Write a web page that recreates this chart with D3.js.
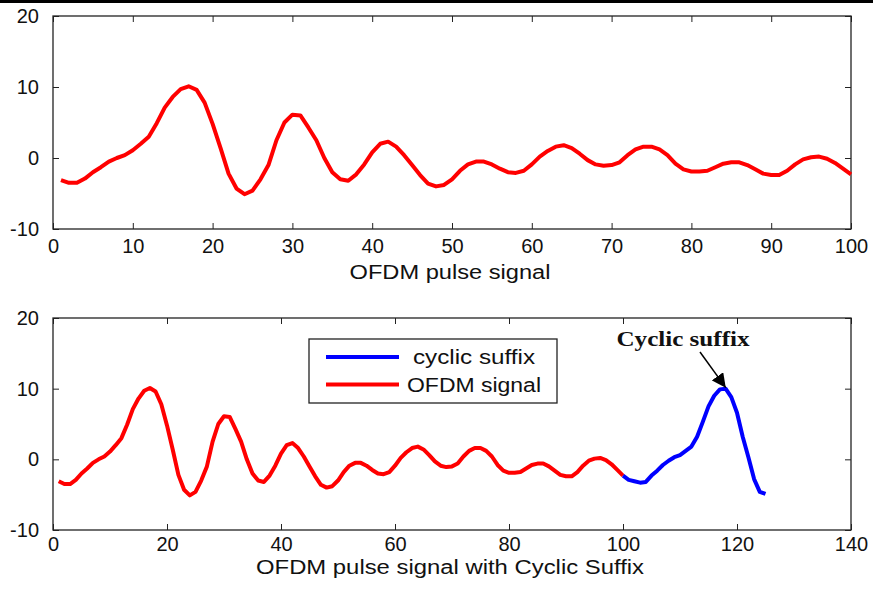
<!DOCTYPE html>
<html>
<head>
<meta charset="utf-8">
<script src="https://cdn.jsdelivr.net/npm/d3@7"></script>
<style>
  html, body { margin: 0; padding: 0; background: #fff; }
  svg { display: block; }
  .tick text { font-family: "Liberation Sans", Arial, sans-serif; font-size: 20px; fill: #111; }
  .tick line { stroke: #222; }
  .ax-title { font-family: "Liberation Sans", Arial, sans-serif; font-size: 20px; fill: #111; }
</style>
</head>
<body>
<div id="chart"></div>
<script>
// OFDM pulse samples n = 1..100
const ofdmSignal = [
  -3.1, -3.5, -3.5, -2.9, -2.0, -1.3, -0.5,  0.0,  0.4,  1.1,
   2.0,  3.0,  4.9,  7.1,  8.6,  9.7, 10.1,  9.6,  7.8,  4.8,
   1.4, -2.2, -4.3, -5.1, -4.6, -3.0, -1.0,  2.5,  5.0,  6.1,
   6.0,  4.3,  2.5,  0.0, -2.0, -3.0, -3.2, -2.3, -0.9,  0.8,
   2.0,  2.3,  1.6,  0.4, -1.0, -2.4, -3.6, -4.0, -3.8, -3.0,
  -1.8, -0.9, -0.5, -0.5, -0.9, -1.5, -2.0, -2.1, -1.8, -0.9,
   0.2,  1.0,  1.6,  1.8,  1.4,  0.6, -0.3, -0.9, -1.1, -1.0,
  -0.6,  0.4,  1.2,  1.6,  1.6,  1.2,  0.4, -0.8, -1.6, -1.9,
  -1.9, -1.8, -1.3, -0.8, -0.6, -0.6, -1.0, -1.6, -2.2, -2.4,
  -2.4, -1.8, -0.9, -0.2,  0.1,  0.2, -0.1, -0.7, -1.5, -2.3
];
const signalStart = 1;

// cyclic suffix samples n = 100..125 (bottom panel, blue)
const suffixSignal = [
  -2.3, -2.9, -3.1, -3.3, -3.2, -2.3, -1.6, -0.8, -0.2,  0.3,
   0.6,  1.2,  1.8,  3.2,  5.3,  7.5,  9.0,  9.9, 10.0,  8.8,
   6.6,  3.2,  0.3, -2.8, -4.6, -4.9
];
const suffixStart = 100;

const topXTicks = [0, 10, 20, 30, 40, 50, 60, 70, 80, 90, 100];
const botXTicks = [0, 20, 40, 60, 80, 100, 120, 140];
const yTicks = [-10, 0, 10, 20];

const legendLabels = ['cyclic suffix', 'OFDM signal'];
const legendColors = ['#0000ff', '#ff0000'];

const W = 873, H = 589;
const svg = d3.select('#chart').append('svg').attr('width', W).attr('height', H);

// black strip along the top edge of the picture
svg.append('rect').attr('x', 0).attr('y', 0).attr('width', W).attr('height', 3).attr('fill', '#000');

const plainNum = d => String(d);

function panel(cfg) {
  const { x, y, xTicks, title, titleY, titleLen, xPad } = cfg;
  const g = svg.append('g');
  const [x0, x1] = x.range();
  const [y0, y1] = y.range();
  const tl = 6;

  g.append('g').attr('transform', `translate(0,${y0})`)
    .call(d3.axisBottom(x).tickValues(xTicks).tickFormat(plainNum).tickSizeInner(-tl).tickSizeOuter(0).tickPadding(xPad))
    .call(s => s.select('.domain').remove());
  g.append('g').attr('transform', `translate(0,${y1})`)
    .call(d3.axisTop(x).tickValues(xTicks).tickSizeInner(-tl).tickSizeOuter(0).tickFormat(''))
    .call(s => s.select('.domain').remove());
  g.append('g').attr('transform', `translate(${x0},0)`)
    .call(d3.axisLeft(y).tickValues(yTicks).tickFormat(plainNum).tickSizeInner(-tl).tickSizeOuter(0).tickPadding(14))
    .call(s => s.select('.domain').remove());
  g.append('g').attr('transform', `translate(${x1},0)`)
    .call(d3.axisRight(y).tickValues(yTicks).tickSizeInner(-tl).tickSizeOuter(0).tickFormat(''))
    .call(s => s.select('.domain').remove());

  // hide ticks that sit on the box edges
  g.selectAll('.tick line').filter(d => d === x.domain()[0] || d === x.domain()[1] || d === y.domain()[0] || d === y.domain()[1])
    .attr('stroke', 'none');

  g.append('rect').attr('x', x0).attr('y', y1).attr('width', x1 - x0).attr('height', y0 - y1)
    .attr('fill', 'none').attr('stroke', '#222').attr('stroke-width', 1.3);

  g.append('text').attr('class', 'ax-title')
    .attr('x', (x0 + x1) / 2 - 2).attr('y', titleY).attr('text-anchor', 'middle')
    .attr('textLength', titleLen).attr('lengthAdjust', 'spacingAndGlyphs')
    .text(title);
  return g;
}

const xTop = d3.scaleLinear().domain([0, 100]).range([53, 851]);
const yTop = d3.scaleLinear().domain([-10, 20]).range([229, 16]);
const xBot = d3.scaleLinear().domain([0, 140]).range([53, 851]);
const yBot = d3.scaleLinear().domain([-10, 20]).range([530, 318]);

panel({ x: xTop, y: yTop, xTicks: topXTicks, title: 'OFDM pulse signal', titleY: 279, titleLen: 201, xPad: 10 });
panel({ x: xBot, y: yBot, xTicks: botXTicks, title: 'OFDM pulse signal with Cyclic Suffix', titleY: 574, titleLen: 388, xPad: 7 });

const sigPts = ofdmSignal.map((v, i) => [signalStart + i, v]);
const sufPts = suffixSignal.map((v, i) => [suffixStart + i, v]);

const lineTop = d3.line().x(d => xTop(d[0])).y(d => yTop(d[1]));
const lineBot = d3.line().x(d => xBot(d[0])).y(d => yBot(d[1]));

svg.append('path').datum(sigPts).attr('d', lineTop)
  .attr('fill', 'none').attr('stroke', '#ff0000').attr('stroke-width', 4).attr('stroke-linejoin', 'round');

svg.append('path').datum(sigPts).attr('d', lineBot)
  .attr('fill', 'none').attr('stroke', '#ff0000').attr('stroke-width', 4).attr('stroke-linejoin', 'round');
svg.append('path').datum(sufPts).attr('d', lineBot)
  .attr('fill', 'none').attr('stroke', '#0000ff').attr('stroke-width', 4).attr('stroke-linejoin', 'round');

// ---- Legend ----
const legendTextX = [104, 98];
const legendTextLen = [122, 134];
const lg = svg.append('g').attr('transform', 'translate(309,339)');
lg.append('rect').attr('width', 248).attr('height', 64)
  .attr('fill', '#fff').attr('stroke', '#222').attr('stroke-width', 1.3);
legendLabels.forEach((lab, i) => {
  const yy = 18 + i * 27.5;
  lg.append('line').attr('x1', 17).attr('x2', 90).attr('y1', yy).attr('y2', yy)
    .attr('stroke', legendColors[i]).attr('stroke-width', 4);
  lg.append('text').attr('class', 'ax-title')
    .attr('x', legendTextX[i]).attr('y', yy + 7)
    .attr('textLength', legendTextLen[i]).attr('lengthAdjust', 'spacingAndGlyphs')
    .text(lab);
});

// ---- Annotation ----
const defs = svg.append('defs');
defs.append('marker').attr('id', 'arrowHead')
  .attr('viewBox', '0 0 10 10').attr('refX', 10).attr('refY', 5)
  .attr('markerWidth', 14).attr('markerHeight', 14).attr('markerUnits', 'userSpaceOnUse')
  .attr('orient', 'auto')
  .append('path').attr('d', 'M0,0 L10,5 L0,10 Z').attr('fill', '#000');

const peakX = 117.5, peakY = 10;
svg.append('line')
  .attr('x1', 700).attr('y1', 352)
  .attr('x2', xBot(peakX) + 3).attr('y2', yBot(peakY) - 1)
  .attr('stroke', '#000').attr('stroke-width', 1.5)
  .attr('marker-end', 'url(#arrowHead)');

svg.append('text')
  .attr('x', 683).attr('y', 346).attr('text-anchor', 'middle')
  .attr('font-family', '"Liberation Serif", "Times New Roman", serif')
  .attr('font-weight', 'bold').attr('font-size', 20).attr('fill', '#111')
  .attr('textLength', 133).attr('lengthAdjust', 'spacingAndGlyphs')
  .text('Cyclic suffix');
</script>
</body>
</html>
